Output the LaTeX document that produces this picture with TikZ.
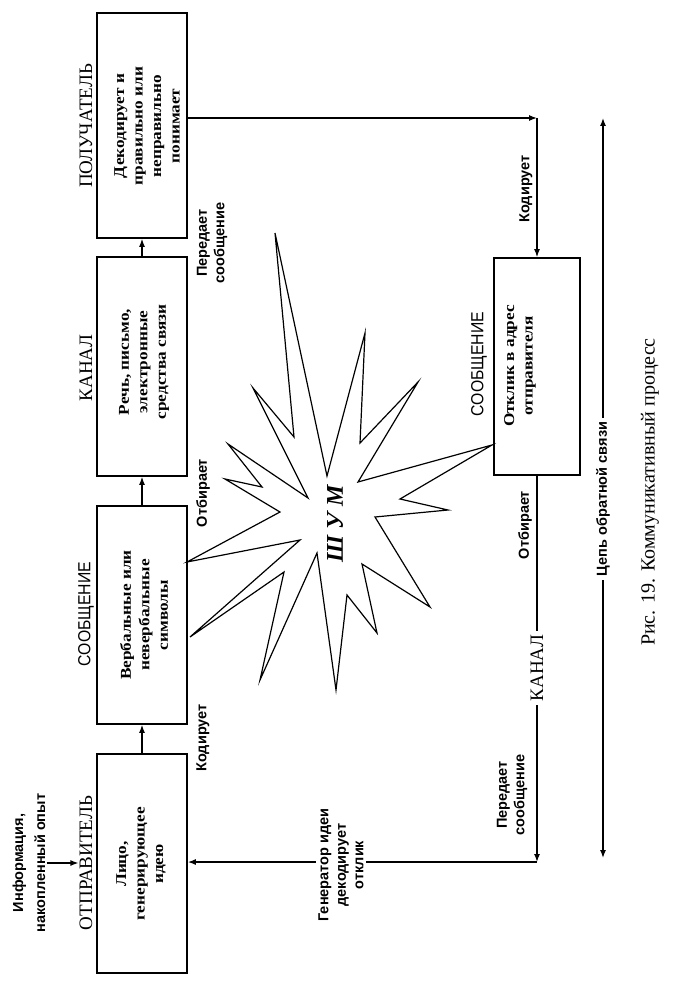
\documentclass[tikz,border=0pt]{standalone}
\usepackage{fontspec}
\setmainfont{Liberation Serif}
\newfontfamily\sansf{Liberation Sans}
\newfontfamily\narrowsans[FakeStretch=0.9]{Liberation Sans}
\newfontfamily\widecontent[FakeStretch=1.15]{Liberation Serif}
\usetikzlibrary{arrows.meta}
\tikzset{
  box/.style={draw, line width=1.7pt, minimum width=90pt, inner sep=0pt},
  head/.style={rotate=90, inner sep=1pt, font=\fontsize{19}{22}\selectfont},
  headsans/.style={rotate=90, inner sep=1pt, font=\narrowsans\fontsize{17.5}{20}\selectfont},
  content/.style={rotate=90, align=center, inner sep=1pt, font=\widecontent\bfseries\fontsize{15}{18.5}\selectfont},
  lab/.style={rotate=90, align=center, inner sep=1pt, font=\sansf\bfseries\fontsize{14.5}{17.5}\selectfont},
  gaplab/.style={fill=white, inner sep=4pt},
  arr/.style={-{Latex[length=8pt,width=6pt]}, line width=1.3pt},
  dblarr/.style={{Latex[length=8pt,width=6pt]}-{Latex[length=8pt,width=6pt]}, line width=1.3pt},
  star/.style={line width=1.2pt, line join=miter}
}
\begin{document}
\begin{tikzpicture}[x=1pt, y=-1pt]
\useasboundingbox (0,0) rectangle (678,995);

% left column boxes
\node[box, minimum height=219pt] (b1) at (142,863.5) {};
\node[box, minimum height=218pt] (b2) at (142,615) {};
\node[box, minimum height=219pt] (b3) at (142,366.5) {};
\node[box, minimum height=225pt] (b4) at (142,125.5) {};
% right box
\node[box, minimum width=86pt, minimum height=217pt] (rb) at (537,366.5) {};

% headings
\node[head] (h1) at (86,863) {ОТПРАВИТЕЛЬ};
\node[headsans] (h2) at (86,614) {СООБЩЕНИЕ};
\node[head] (h3) at (86,368) {КАНАЛ};
\node[head] (h4) at (86,126) {ПОЛУЧАТЕЛЬ};
\node[headsans] (h5) at (479,364) {СООБЩЕНИЕ};

% box contents
\node[content] (t1) at (141,864) {Лицо,\\генерирующее\\идею};
\node[content] (t2) at (144,615) {Вербальные или\\невербальные\\символы};
\node[content] (t3) at (144,362) {Речь, письмо,\\электронные\\средства связи};
\node[content] (t4) at (147,126) {Декодирует и\\правильно или\\неправильно\\понимает};
\node[content] (t5) at (520,366) {Отклик в адрес\\отправителя};

% input
\node[lab, font=\sansf\bfseries\fontsize{14.5}{22}\selectfont] (info) at (29,863) {Информация,\\накопленный опыт};
\draw[arr] (info.south) -- (info.south -| h1.north);

% arrows between left boxes
\draw[arr] (b1.north) -- (b2.south);
\draw[arr] (b2.north) -- (b3.south);
\draw[arr] (b3.north) -- (b4.south);

% labels between boxes
\node[lab] (l1) at (203,738) {Кодирует};
\node[lab] (l2) at (203,493) {Отбирает};
\node[lab] (l3) at (212,243) {Передает\\сообщение};

% feedback loop
\coordinate (c1) at (537,118);
\coordinate (c2) at (537,862);
\draw[arr] (b4.east |- c1) -- (c1);
\draw[arr] (c1) -- (rb.north);
\draw[arr] (rb.south) -- (c2);
\draw[arr] (c2) -- (b1.east |- c2);

\node[lab] (r1) at (526,189) {Кодирует};
\node[lab] (r2) at (525,525) {Отбирает};
\node[head, gaplab] (r3) at (537,668) {КАНАЛ};
\node[lab] (r4) at (512,795) {Передает\\сообщение};
\node[lab, gaplab, inner sep=2pt] (r5) at (341,865) {Генератор идеи\\декодирует\\отклик};

% feedback chain arrow
\coordinate (fbT) at (603,118);
\coordinate (fbB) at (603,858);
\draw[dblarr] (fbT) -- (fbB);
\node[lab, gaplab] (fbl) at (603,499) {Цепь обратной связи};

% caption
\node[rotate=90, font=\fontsize{20}{24}\selectfont] (cap) at (650,492) {Рис. 19. Коммуникативный процесс};

% noise star
\draw[star] (275,233) -- (327,476) -- (365,333) -- (360,443) -- (418,382) -- (358,482)
  -- (492,445) -- (400,499) -- (448,510) -- (375,517) -- (430,607) -- (362,564)
  -- (377,633) -- (347,595) -- (336,690) -- (317,553) -- (260,680) -- (284,572)
  -- (190,637) -- (300,540) -- (187,562) -- (280,512) -- (225,479) -- (262,487)
  -- (228,444) -- (308,498) -- (253,388) -- (294,437) -- cycle;
\node[rotate=90, font=\bfseries\itshape\fontsize{24}{28}\selectfont] (noise) at (335,524) {Ш У М};
\end{tikzpicture}
\end{document}
